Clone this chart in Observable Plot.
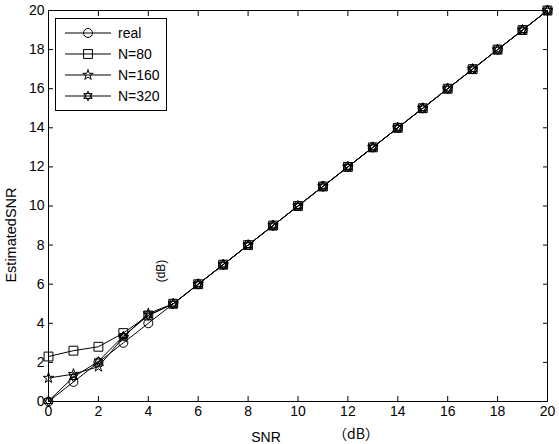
<!DOCTYPE html>
<html><head><meta charset="utf-8">
<script src="https://cdn.jsdelivr.net/npm/d3@7"></script>
<script src="https://cdn.jsdelivr.net/npm/@observablehq/plot@0.6"></script>
<style>
body{margin:0;background:#fff;}
#chart{position:relative;width:559px;height:444px;}
svg{font-family:"Liberation Sans",Arial,sans-serif;}
</style></head>
<body><div id="chart"></div>
<script>
const snr = [0,1,2,3,4,5,6,7,8,9,10,11,12,13,14,15,16,17,18,19,20];
const real = [0,1,2,3,4,5,6,7,8,9,10,11,12,13,14,15,16,17,18,19,20];
const n80  = [2.3,2.6,2.8,3.5,4.4,5,6,7,8,9,10,11,12,13,14,15,16,17,18,19,20];
const n160 = [1.2,1.4,1.78,3.28,4.5,5,6,7,8,9,10,11,12,13,14,15,16,17,18,19,20];
const n320 = [0.02,1.25,2.05,3.35,4.4,5,6,7,8,9,10,11,12,13,14,15,16,17,18,19,20];
const seriesNames = ["real","N=80","N=160","N=320"];
const xTicks = [0,2,4,6,8,10,12,14,16,18,20];
const yTicks = [0,2,4,6,8,10,12,14,16,18,20];

const hexagram = {draw(ctx, size){
  const r = Math.sqrt(size/Math.PI)*1.1;
  for (const off of [-Math.PI/2, Math.PI/2]) {
    for (let i=0;i<3;i++){
      const a = off + i*2*Math.PI/3;
      const x = r*Math.cos(a), y = r*Math.sin(a);
      if(i===0) ctx.moveTo(x,y); else ctx.lineTo(x,y);
    }
    ctx.closePath();
  }
}};
const symbols = [d3.symbolCircle, d3.symbolSquare, d3.symbolStar, hexagram];
const radii = [4.5, 5.0, 3.3, 4.4];
const allSeries = [real, n80, n160, n320];

const data = [];
allSeries.forEach((vals, si) => vals.forEach((v, i) => data.push({series: seriesNames[si], si, x: snr[i], y: v})));

const marks = [
  Plot.frame({stroke:"black", strokeWidth:1}),
  Plot.axisX({anchor:"bottom", ticks:xTicks, tickSize:-5, tickPadding:10, fontSize:14, label:null}),
  Plot.axisX({anchor:"top", ticks:xTicks, tickSize:-5, tickFormat:()=>"", label:null}),
  Plot.axisY({anchor:"left", ticks:yTicks, tickSize:-5, tickPadding:9, fontSize:14, label:null}),
  Plot.axisY({anchor:"right", ticks:yTicks, tickSize:-5, tickFormat:()=>"", label:null}),
];
seriesNames.forEach((name, si) => {
  const d = data.filter(e => e.si === si);
  marks.push(Plot.line(d, {x:"x", y:"y", stroke:"black", strokeWidth:1}));
  marks.push(Plot.dot(d, {x:"x", y:"y", symbol:()=>symbols[si], r:radii[si], stroke:"black", fill:"none", strokeWidth:1}));
});

const plot = Plot.plot({
  width:559, height:444,
  marginLeft:48, marginRight:12, marginTop:10, marginBottom:43,
  x:{domain:[0,20]}, y:{domain:[0,20]},
  symbol:{domain:symbols, range:symbols},
  style:{fontFamily:'"Liberation Sans",Arial,sans-serif', fontSize:"14px", color:"black", background:"white"},
  marks
});
document.getElementById("chart").appendChild(plot);

const svg = d3.select(plot);
const cjk = '"Noto Sans CJK SC","Noto Sans CJK JP",sans-serif';
// axis labels
svg.append("text").attr("x",266).attr("y",442).attr("text-anchor","middle").attr("font-size",14).text("SNR");
svg.append("text").attr("x",356).attr("y",439).attr("text-anchor","middle").attr("font-size",14).attr("font-family",cjk).text("（dB）");
svg.append("g").attr("transform","translate(16,235)")
  .append("text").attr("transform","rotate(-90)").attr("text-anchor","middle").attr("font-size",14.5).text("EstimatedSNR");
svg.append("g").attr("transform","translate(165,271)")
  .append("text").attr("transform","rotate(-90)").attr("text-anchor","middle").attr("font-size",12).text("(dB)");

// legend
const lg = svg.append("g");
lg.append("rect").attr("x",55.5).attr("y",18.5).attr("width",111).attr("height",92).attr("fill","white").attr("stroke","black");
const rowsY = [33,54,75,96];
seriesNames.forEach((name, si) => {
  const y = rowsY[si];
  lg.append("line").attr("x1",65).attr("x2",111).attr("y1",y).attr("y2",y).attr("stroke","black");
  const sym = d3.symbol(symbols[si], Math.PI*radii[si]*radii[si]);
  lg.append("path").attr("d",sym()).attr("transform",`translate(88,${y})`).attr("fill","none").attr("stroke","black");
  lg.append("text").attr("x",118).attr("y",y+5).attr("text-anchor","start").attr("font-size",14).text(name);
});
</script></body></html>
